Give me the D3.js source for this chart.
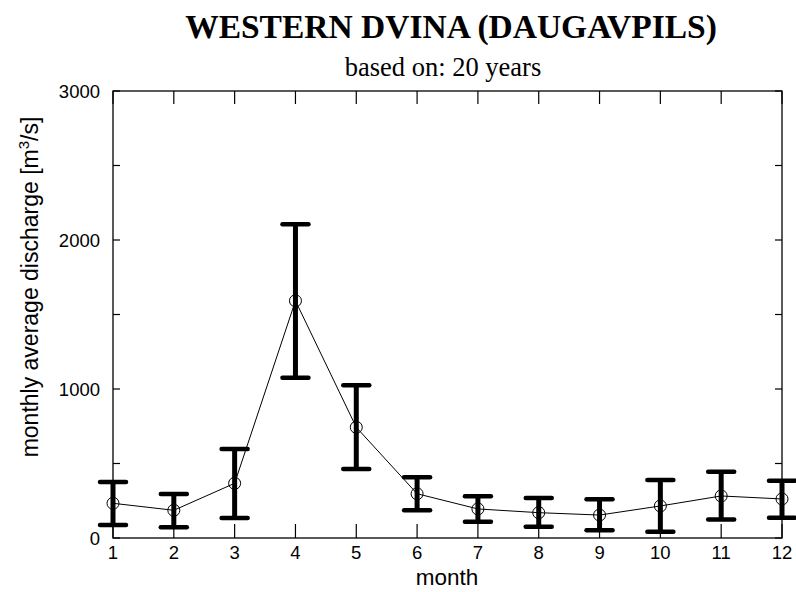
<!DOCTYPE html>
<html><head><meta charset="utf-8">
<script src="https://cdn.jsdelivr.net/npm/d3@7"></script>
<style>body{margin:0;background:#fff}svg{display:block}</style>
</head><body>
<svg id="c" width="796" height="592"></svg>
<script>
const months = [1,2,3,4,5,6,7,8,9,10,11,12];
const means  = [233,186,367,1592,743,297,195,170,154,215,282,262];
const upper  = [376,295,597,2105,1025,407,280,268,260,389,445,385];
const lower  = [87,72,134,1076,463,186,109,76,52,42,125,136];
const yTicks = [0,1000,2000,3000];
const yMinor = [500,1500,2500];
const title = "WESTERN DVINA (DAUGAVPILS)";
const subtitle = "based on: 20 years";

const svg = d3.select("#c");
const L=113,R=782,T=91,B=538;
const x = d3.scaleLinear().domain([1,12]).range([L,R]);
const y = d3.scaleLinear().domain([0,3000]).range([B,T]);
const sans = "'Liberation Sans', Arial, sans-serif";
const serif = "'Liberation Serif', 'Times New Roman', serif";

svg.append("text").attr("x",451).attr("y",38).attr("text-anchor","middle")
  .attr("font-family",serif).attr("font-weight","bold").attr("font-size",33.5).text(title);
svg.append("text").attr("x",443).attr("y",76).attr("text-anchor","middle")
  .attr("font-family",serif).attr("font-size",26.5).text(subtitle);

// frame
svg.append("rect").attr("x",L).attr("y",T).attr("width",R-L).attr("height",B-T)
  .attr("fill","none").attr("stroke","#000").attr("stroke-width",1.3);

// ticks
const g = svg.append("g").attr("stroke","#000").attr("stroke-width",1.2);
months.forEach(m=>{
  g.append("line").attr("x1",x(m)).attr("x2",x(m)).attr("y1",B).attr("y2",B-14);
  g.append("line").attr("x1",x(m)).attr("x2",x(m)).attr("y1",T).attr("y2",T+13);
});
yTicks.concat(yMinor).forEach(v=>{
  g.append("line").attr("x1",L).attr("x2",L+7).attr("y1",y(v)).attr("y2",y(v));
  g.append("line").attr("x1",R).attr("x2",R-7).attr("y1",y(v)).attr("y2",y(v));
});

// tick labels
svg.append("g").selectAll("text").data(months).join("text")
  .attr("x",d=>x(d)).attr("y",559).attr("text-anchor","middle")
  .attr("font-family",sans).attr("font-size",18.5).text(d=>d);
svg.append("g").selectAll("text").data(yTicks).join("text")
  .attr("x",100).attr("y",d=>y(d)+6.5).attr("text-anchor","end")
  .attr("font-family",sans).attr("font-size",18.5).text(d=>d);

// axis titles
svg.append("text").attr("x",447).attr("y",585).attr("text-anchor","middle")
  .attr("font-family",sans).attr("font-size",22.5).text("month");
const yl = svg.append("text").attr("transform","translate(38,287) rotate(-90)")
  .attr("text-anchor","middle").attr("font-family",sans).attr("font-size",23);
yl.append("tspan").text("monthly average discharge [m");
yl.append("tspan").attr("dy",-9).attr("font-size",15).text("3");
yl.append("tspan").attr("dy",9).text("/s]");

// line
const line = d3.line().x((d,i)=>x(months[i])).y(d=>y(d));
svg.append("path").datum(means).attr("d",line).attr("fill","none")
  .attr("stroke","#000").attr("stroke-width",1);

// error bars
const eb = svg.append("g").attr("stroke","#000").attr("stroke-linecap","round");
months.forEach((m,i)=>{
  eb.append("line").attr("x1",x(m)).attr("x2",x(m)).attr("y1",y(lower[i])).attr("y2",y(upper[i])).attr("stroke-width",5).attr("stroke-linecap","butt");
  [lower[i],upper[i]].forEach(v=>{
    eb.append("line").attr("x1",x(m)-13).attr("x2",x(m)+13).attr("y1",y(v)).attr("y2",y(v)).attr("stroke-width",4.5);
  });
});

// markers
svg.append("g").selectAll("circle").data(means).join("circle")
  .attr("cx",(d,i)=>x(months[i])).attr("cy",d=>y(d)).attr("r",6)
  .attr("fill","none").attr("stroke","#000").attr("stroke-width",1);
</script>
</body></html>
